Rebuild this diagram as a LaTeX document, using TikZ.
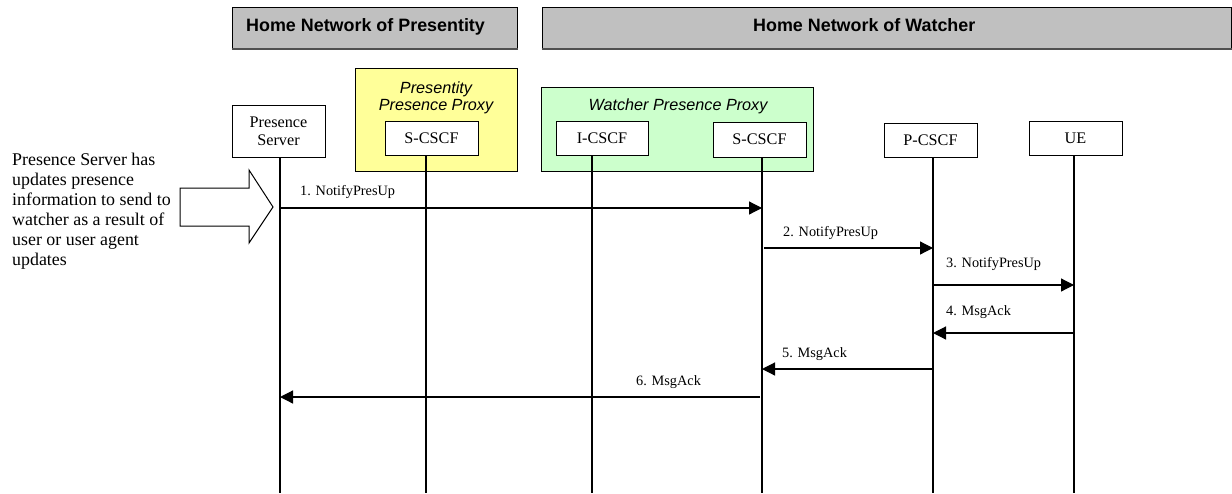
\documentclass[tikz,border=0pt]{standalone}
\usepackage{fontspec}
\setmainfont{Liberation Serif}
\newfontfamily\arialf{Liberation Sans}
\usetikzlibrary{arrows.meta}
\definecolor{hdrgray}{HTML}{C0C0C0}
\definecolor{shadowgray}{HTML}{505050}
\definecolor{proxyyellow}{HTML}{FFFF99}
\definecolor{proxygreen}{HTML}{CCFFCC}
\tikzset{
  hdrbox/.style={draw=black, line width=1pt, fill=hdrgray, inner sep=0pt, minimum height=41pt},
  hdrtext/.style={anchor=base west, inner sep=0pt, font=\arialf\bfseries\fontsize{17.9}{20}\selectfont},
  proxybox/.style={draw=black, line width=1pt, inner sep=0pt},
  proxytitle/.style={anchor=base, inner sep=0pt, font=\arialf\itshape\fontsize{16.2}{17}\selectfont},
  entity/.style={draw=black, line width=1pt, fill=white, inner sep=0pt, minimum width=93pt, minimum height=34pt, align=center, font=\fontsize{16.2}{18}\selectfont},
  lifeline/.style={draw=black, line width=1.1pt},
  msg/.style={draw=black, line width=1.2pt, -{Triangle[length=13pt,width=13pt]}},
  msglabel/.style={anchor=base west, inner sep=0pt, font=\fontsize{14.3}{16}\selectfont},
  notetext/.style={anchor=base west, inner sep=0pt, align=left, font=\fontsize{17.9}{20}\selectfont},
  blockarrow/.style={draw=black, line width=1pt, fill=white, line join=miter}
}
\begin{document}
\begin{tikzpicture}[x=1pt,y=-1pt]
\useasboundingbox (0,0) rectangle (1232,493);
\fill[white] (0,0) rectangle (1232,493);

% headers
\node[hdrbox, minimum width=285pt] (hdrP) at (374.5,27.5) {};
\draw[shadowgray, line width=2pt] ([yshift=-0.5pt]hdrP.south west) -- ([yshift=-0.5pt]hdrP.south east);
\node[hdrtext] (hdrPt) at (246,31) {Home Network of Presentity};
\node[hdrbox, minimum width=689pt] (hdrW) at (886.5,27.5) {};
\draw[shadowgray, line width=2pt] ([yshift=-0.5pt]hdrW.south west) -- ([yshift=-0.5pt]hdrW.south east);
\node[hdrtext] (hdrWt) at (753,31) {Home Network of Watcher};

% proxies
\node[proxybox, fill=proxyyellow, minimum width=162pt, minimum height=103pt] (pproxy) at (436,119.5) {};
\node[proxytitle] (pproxyt1) at (436,93) {Presentity};
\node[proxytitle] (pproxyt2) at (436,110) {Presence Proxy};
\node[proxybox, fill=proxygreen, minimum width=272pt, minimum height=84pt] (wproxy) at (677,129) {};
\node[proxytitle] (wproxyt) at (678,110) {Watcher Presence Proxy};

% entities
\node[entity, minimum height=52pt] (ps) at (278.5,131) {Presence\\Server};
\node[entity] (pscscf) at (431.5,138) {S-CSCF};
\node[entity, minimum width=92pt] (icscf) at (602,138) {I-CSCF};
\node[entity, minimum height=35pt] (wscscf) at (759.5,139.5) {S-CSCF};
\node[entity] (pcscf) at (930.5,140) {P-CSCF};
\node[entity] (ue) at (1075.5,138) {UE};

% lifelines
\coordinate (lps) at (280,157);
\coordinate (lpsc) at (426,155);
\coordinate (lic) at (592,155);
\coordinate (lwsc) at (762,157);
\coordinate (lpc) at (933,157);
\coordinate (lue) at (1074,155);
\coordinate (bot) at (0,493);
\foreach \l in {lps,lpsc,lic,lwsc,lpc,lue}{
  \draw[lifeline] (\l) -- (\l |- bot);
}

% note and block arrow
\node[notetext] (note) at (12,265) {Presence Server has\\updates presence\\information to send to\\watcher as a result of\\user or user agent\\updates};
\draw[blockarrow] (180,188) -- (249,188) -- (249,170) -- (273,207) -- (249,243) -- (249,226) -- (180,226) -- cycle;

% messages
\draw[msg] (lps |- 0,208) -- (lwsc |- 0,208);
\node[msglabel] (m1) at (300,195) {1. NotifyPresUp};
\draw[msg] ([xshift=2pt]lwsc |- 0,248) -- (lpc |- 0,248);
\node[msglabel] (m2) at (783,236) {2. NotifyPresUp};
\draw[msg] (lpc |- 0,285) -- (lue |- 0,285);
\node[msglabel] (m3) at (946,267) {3. NotifyPresUp};
\draw[msg] (lue |- 0,333) -- (lpc |- 0,333);
\node[msglabel] (m4) at (946,315) {4. MsgAck};
\draw[msg] (lpc |- 0,369) -- (lwsc |- 0,369);
\node[msglabel] (m5) at (782,357) {5. MsgAck};
\draw[msg] ([xshift=-2pt]lwsc |- 0,397) -- (lps |- 0,397);
\node[msglabel] (m6) at (636,385) {6. MsgAck};
\end{tikzpicture}
\end{document}
